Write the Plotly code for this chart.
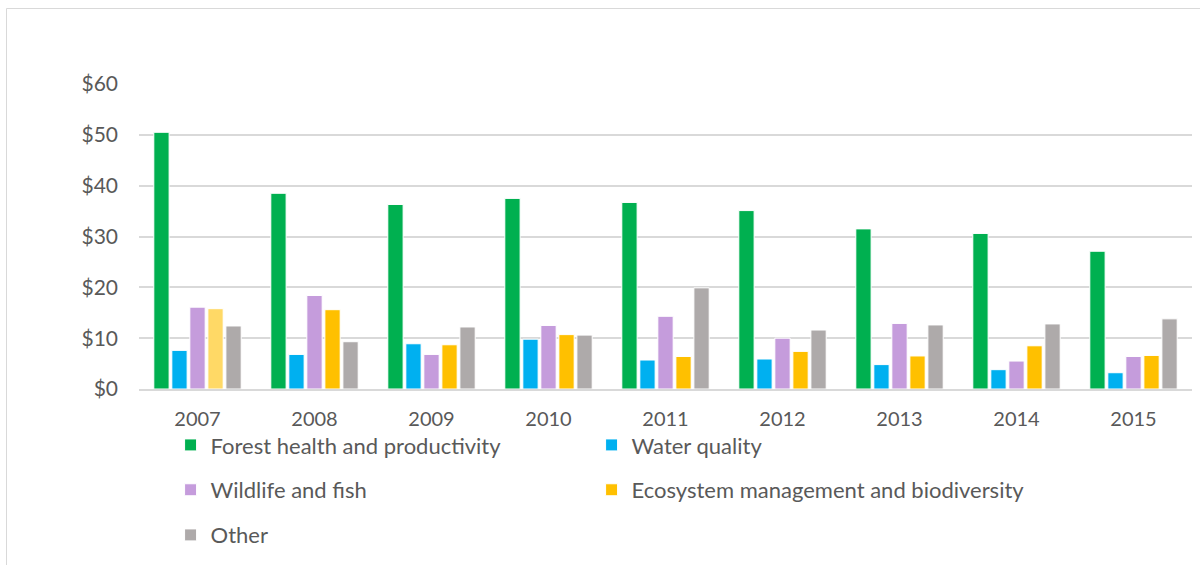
import plotly.graph_objects as go

years = ["2007", "2008", "2009", "2010", "2011", "2012", "2013", "2014", "2015"]
forest = [50.5, 38.5, 36.3, 37.5, 36.7, 35.1, 31.5, 30.6, 27.1]
water = [7.6, 6.8, 8.9, 9.8, 5.7, 5.9, 4.8, 3.8, 3.2]
wildlife = [16.1, 18.4, 6.8, 12.5, 14.3, 10.0, 12.9, 5.5, 6.4]
ecosystem = [15.8, 15.6, 8.7, 10.7, 6.4, 7.4, 6.5, 8.5, 6.6]
other = [12.4, 9.3, 12.2, 10.6, 19.9, 11.6, 12.6, 12.8, 13.8]

names = ["Forest health and productivity", "Water quality", "Wildlife and fish",
         "Ecosystem management and biodiversity", "Other"]
colors = ["#00B050", "#00B0F0", "#C59CDC", "#FFC000", "#AEAAAA"]
eco_colors = ["#FFD966"] + ["#FFC000"] * 8

FONT = "Lato"
TXT = "#595959"

fig = go.Figure()
series = [forest, water, wildlife, ecosystem, other]
legends = ["legend", "legend2", "legend3", "legend4", "legend5"]
for i, (nm, vals) in enumerate(zip(names, series)):
    if i == 3:
        # reversed input order so the legend swatch takes the regular colour
        xs, ys, cs = years[::-1], vals[::-1], eco_colors[::-1]
    else:
        xs, ys, cs = years, vals, colors[i]
    fig.add_trace(go.Bar(
        x=xs, y=ys, name=nm, legend=legends[i], showlegend=True,
        marker=dict(color=cs, line=dict(color="white", width=1)),
    ))

leg_common = dict(orientation="h", font=dict(family=FONT, size=22, color=TXT),
                  bgcolor="rgba(0,0,0,0)", xanchor="left", yanchor="middle")
col1, col2 = 0.03, 0.4298
row1, row2, row3 = -0.184, -0.331, -0.479

fig.update_layout(
    width=1200, height=565,
    showlegend=True,
    margin=dict(l=139, r=8, t=84, b=176),
    paper_bgcolor="white", plot_bgcolor="white",
    barmode="group", bargap=0.23, bargroupgap=0.15,
    font=dict(family=FONT, color=TXT),
    xaxis=dict(type="category", categoryorder="array", categoryarray=years,
               showline=True, linecolor="#D9D9D9", linewidth=1.5, ticks="",
               showgrid=False, tickfont=dict(family=FONT, size=20, color=TXT),
               ticklabelstandoff=11),
    yaxis=dict(range=[0, 60], dtick=10, tickprefix="$", showgrid=True,
               gridcolor="#D9D9D9", gridwidth=1.5, zeroline=False, showline=False,
               ticks="", tickfont=dict(family=FONT, size=21, color=TXT),
               ticklabelstandoff=20),
    legend=dict(leg_common, x=col1, y=row1),
    legend2=dict(leg_common, x=col2, y=row1),
    legend3=dict(leg_common, x=col1, y=row2),
    legend4=dict(leg_common, x=col2, y=row2),
    legend5=dict(leg_common, x=col1, y=row3),
    shapes=[dict(type="rect", xref="paper", yref="paper",
                 x0=(6.5 - 139) / 1053, x1=1.2, y0=-0.8, y1=(389 - 8.5) / 305,
                 line=dict(color="#D9D9D9", width=1), fillcolor="rgba(0,0,0,0)",
                 layer="below")],
)

fig.write_html("out.html")
